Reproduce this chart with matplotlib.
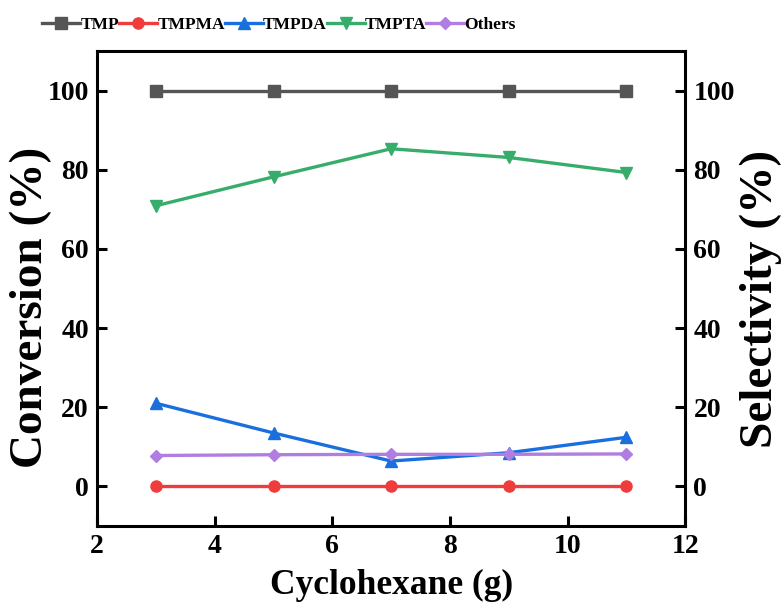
import matplotlib
matplotlib.use("Agg")
import matplotlib.pyplot as plt

x = [3, 5, 7, 9, 11]
tmp = [100, 100, 100, 100, 100]
tmpma = [0, 0, 0, 0, 0]
tmpda = [21.0, 13.5, 6.4, 8.5, 12.4]
tmpta = [70.9, 78.2, 85.3, 83.1, 79.3]
others = [7.8, 8.0, 8.1, 8.1, 8.2]

series = [
    ("TMP", tmp, "#555555", "s"),
    ("TMPMA", tmpma, "#f03c3c", "o"),
    ("TMPDA", tmpda, "#1a6fdf", "^"),
    ("TMPTA", tmpta, "#37ad6b", "v"),
    ("Others", others, "#b07ee0", "D"),
]

plt.rcParams['font.family'] = ['Liberation Serif', 'DejaVu Serif']
plt.rcParams['font.weight'] = 'bold'

fig = plt.figure(figsize=(7.83, 6.07), dpi=100)
ax = fig.add_axes([0.124, 0.1335, 0.751, 0.7825])
for name, vals, c, m in series:
    ms = 6.5 if m == "D" else 8
    ax.plot(x, vals, color=c, marker=m, lw=2.4, ms=ms, label=name)

ax.set_xlim(2, 12)
ax.set_ylim(-10, 110)
ax.set_xticks([2, 4, 6, 8, 10, 12])
ax.set_yticks([0, 20, 40, 60, 80, 100])
ax.tick_params(axis='both', direction='in', length=7, width=2.2, labelsize=20, pad=6)
ax.tick_params(axis='y', right=False)
for lab in ax.get_xticklabels() + ax.get_yticklabels():
    lab.set_fontweight('bold')
for s in ax.spines.values():
    s.set_linewidth(2.2)
ax.set_xlabel("Cyclohexane (g)", fontsize=25.5, fontweight='bold')
ax.set_ylabel("Conversion (%)", fontsize=34, fontweight='bold')
ax.xaxis.set_label_coords(0.5, -0.126)
ax.yaxis.set_label_coords(-0.112, 0.46)
ax.xaxis.label.set_va('center')
ax.yaxis.label.set_va('center')

ax2 = ax.twinx()
ax2.set_ylim(-10, 110)
ax2.set_yticks([0, 20, 40, 60, 80, 100])
ax2.tick_params(axis='y', direction='in', length=7, width=2.2, labelsize=20, pad=6)
for lab in ax2.get_yticklabels():
    lab.set_fontweight('bold')
ax2.set_ylabel("Selectivity (%)", fontsize=34, fontweight='bold')
ax2.yaxis.set_label_coords(1.128, 0.478)
ax2.yaxis.label.set_va('center')

handles, labels = ax.get_legend_handles_labels()
leg = fig.legend(handles, labels, loc='center left', bbox_to_anchor=(0.045, 0.959),
                 ncol=5, frameon=False, fontsize=12.5, handlelength=2.2,
                 handletextpad=0.0, columnspacing=0.0, borderaxespad=0)
for t in leg.get_texts():
    t.set_fontweight('bold')

fig.savefig("out.png", dpi=100)
